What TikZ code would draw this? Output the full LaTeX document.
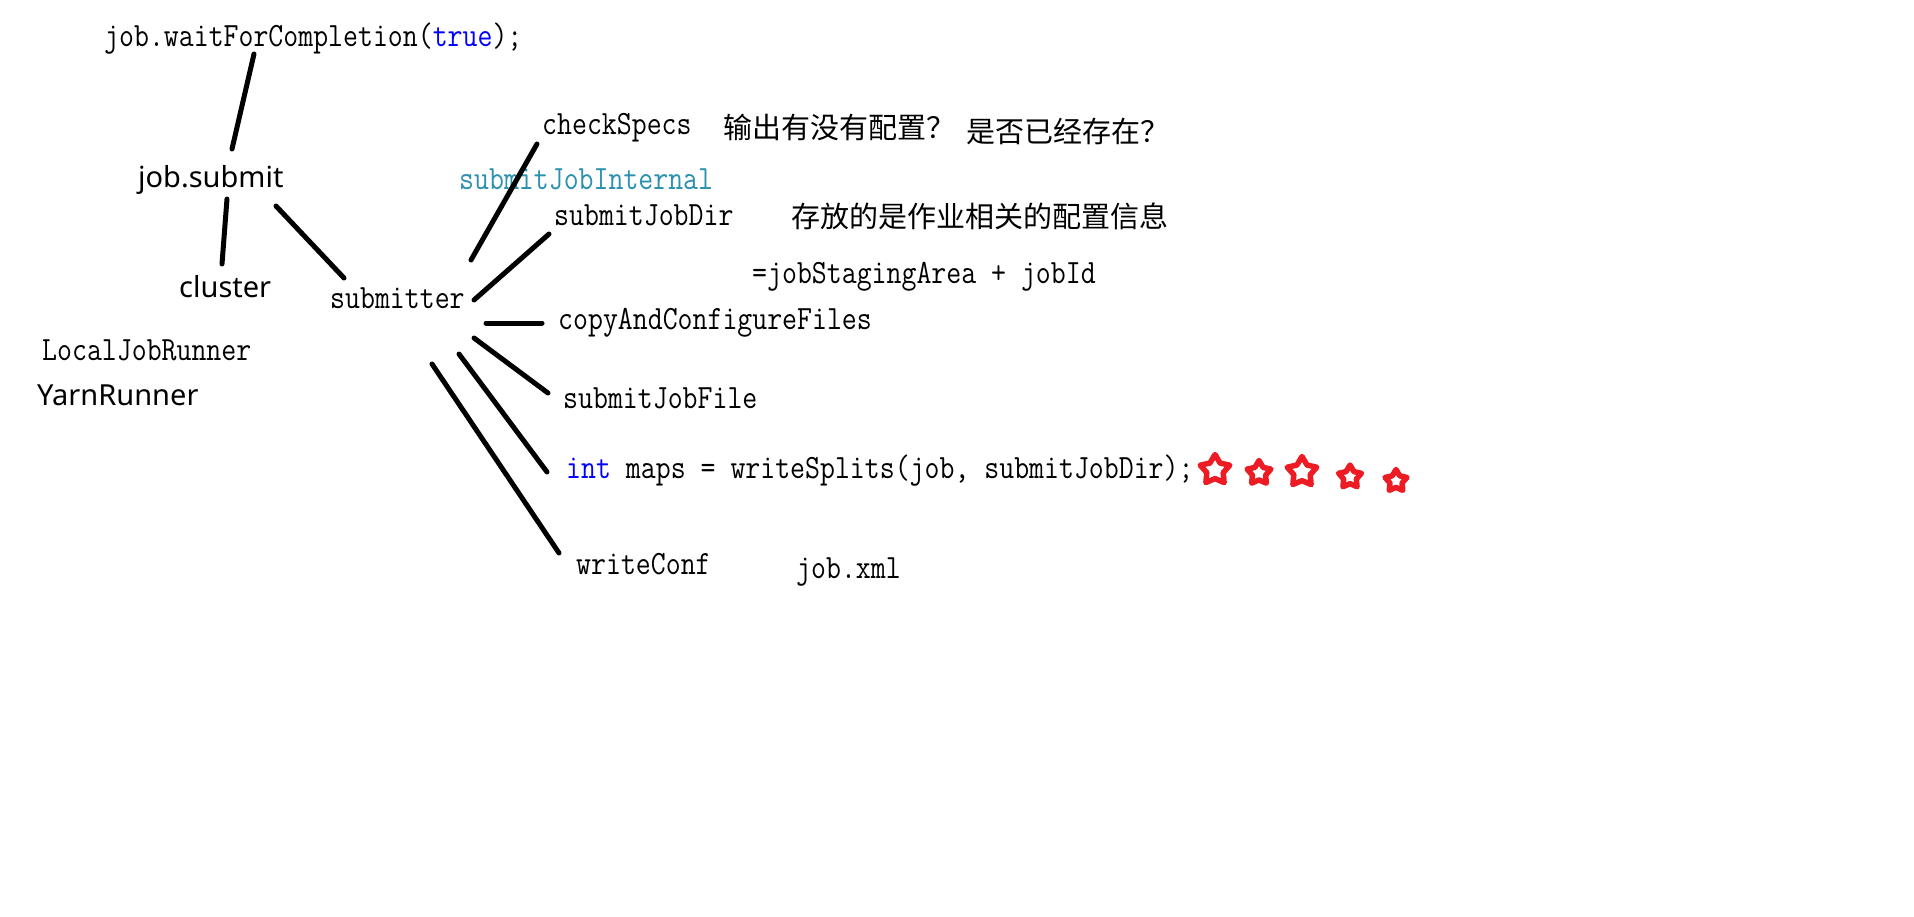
\documentclass[tikz,border=0pt]{standalone}
\usepackage{fontspec}
\usepackage{graphicx}
\usetikzlibrary{shapes.geometric}
\newfontfamily\sansf{Noto Sans}
\newfontfamily\cjk{Noto Sans CJK SC}
\definecolor{kwblue}{RGB}{0,0,255}
\definecolor{typeteal}{RGB}{43,145,175}
\definecolor{starred}{RGB}{237,28,36}
\newcommand\mycode[1]{\scalebox{0.853}[1]{#1}}
\begin{document}
\begin{tikzpicture}[x=1pt,y=-1pt,
  code/.style={anchor=west,inner sep=0pt,font=\fontsize{34}{36}\selectfont\ttfamily,text height=22pt,text depth=6pt},
  sanslbl/.style={anchor=west,inner sep=0pt,font=\fontsize{29}{31}\selectfont\sansf,text height=21pt,text depth=3pt},
  cjklbl/.style={anchor=west,inner sep=0pt,font=\fontsize{29}{31}\selectfont\cjk,text height=24pt,text depth=3pt},
  stroke/.style={line width=5pt,line cap=round},
  redstar/.style={star,star points=5,star point ratio=1.8,draw=starred,line width=5.5pt,fill=white,inner sep=0pt,line join=round}
]
\fill[white] (0,0) rectangle (1914,916);
\useasboundingbox (0,0) rectangle (1914,916);

% text nodes
\node[code] (wait) at (104,38) {\mycode{job.waitForCompletion(\textcolor{kwblue}{true});}};
\node[sanslbl] (jobsubmit) at (138,178) {job.submit};
\node[sanslbl] (cluster) at (179,288) {cluster};
\node[code] (submitter) at (330,300) {\mycode{submitter}};
\node[code] (local) at (42,352) {\mycode{LocalJobRunner}};
\node[sanslbl] (yarn) at (37,396) {YarnRunner};
\node[code] (check) at (542,126) {\mycode{checkSpecs}};
\node[cjklbl] (q1) at (723,128) {输出有没有配置？};
\node[cjklbl] (q2) at (966,132) {是否已经存在？};
\node[code,text=typeteal] (internal) at (459,181) {\mycode{submitJobInternal}};
\node[code] (jobdir) at (554,217) {\mycode{submitJobDir}};
\node[cjklbl] (info) at (791,217) {存放的是作业相关的配置信息};
\node[code] (staging) at (752,275) {\mycode{=jobStagingArea + jobId}};
\node[code] (copy) at (558,321) {\mycode{copyAndConfigureFiles}};
\node[code] (jobfile) at (563,400) {\mycode{submitJobFile}};
\node[code] (maps) at (566,470) {\mycode{\textcolor{kwblue}{int} maps = writeSplits(job, submitJobDir);}};
\node[code] (conf) at (576,566) {\mycode{writeConf}};
\node[code] (xml) at (796,570) {\mycode{job.xml}};

% stars
\node[redstar,minimum size=31pt] (s1) at (1215,470) {};
\node[redstar,minimum size=25pt] (s2) at (1259,473) {};
\node[redstar,minimum size=31pt] (s3) at (1302,472) {};
\node[redstar,minimum size=24pt] (s4) at (1350,477) {};
\node[redstar,minimum size=23pt] (s5) at (1396,481) {};

% connector end points
\coordinate (waitA) at (254,54);
\coordinate (submitTop) at (232,149);
\coordinate (submitBot) at (227,199);
\coordinate (clusterTop) at (222,264);
\coordinate (submitRight) at (276,206);
\coordinate (submitterTop) at (344,278);
\coordinate (checkEnd) at (537,144);
\coordinate (checkStart) at (471,260);
\coordinate (dirEnd) at (549,234);
\coordinate (dirStart) at (474,300);
\coordinate (copyStart) at (486,323);
\coordinate (copyEnd) at (542,323);
\coordinate (fileStart) at (474,338);
\coordinate (fileEnd) at (548,393);
\coordinate (mapsStart) at (459,354);
\coordinate (mapsEnd) at (547,472);
\coordinate (confStart) at (432,364);
\coordinate (confEnd) at (559,553);

\draw[stroke] (waitA) -- (submitTop);
\draw[stroke] (submitBot) -- (clusterTop);
\draw[stroke] (submitRight) -- (submitterTop);
\draw[stroke] (checkStart) -- (checkEnd);
\draw[stroke] (dirStart) -- (dirEnd);
\draw[stroke] (copyStart) -- (copyEnd);
\draw[stroke] (fileStart) -- (fileEnd);
\draw[stroke] (mapsStart) -- (mapsEnd);
\draw[stroke] (confStart) -- (confEnd);
\end{tikzpicture}
\end{document}
